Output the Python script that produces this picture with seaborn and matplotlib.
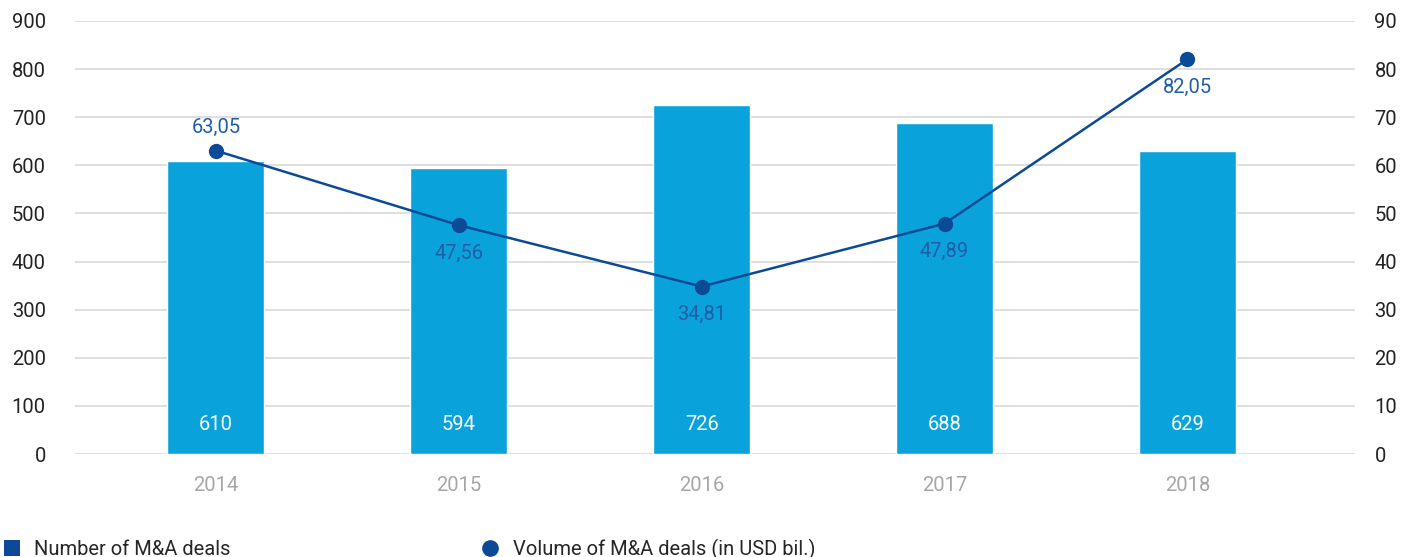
import pandas as pd
import matplotlib.pyplot as plt
import seaborn as sns
from matplotlib.lines import Line2D
from matplotlib.patches import Patch

years = ['2014', '2015', '2016', '2017', '2018']
deals_count = [610, 594, 726, 688, 629]
deals_volume = [63.05, 47.56, 34.81, 47.89, 82.05]
volume_labels = ['63,05', '47,56', '34,81', '47,89', '82,05']

bar_color = '#0AA2DB'
line_color = '#0B4A97'
label_color = '#1F5EA8'

df = pd.DataFrame({'year': years, 'count': deals_count, 'volume': deals_volume})
df['pos'] = range(len(df))

sns.set_theme(style='white')
plt.rcParams['font.family'] = ['Roboto', 'DejaVu Sans']

fs = 14.5

fig = plt.figure(figsize=(14.03, 5.57), dpi=100)
ax = fig.add_axes([75 / 1403, 1 - 454 / 557, 1280 / 1403, 433 / 557])

sns.barplot(data=df, x='year', y='count', color=bar_color, saturation=1,
            width=0.4, ax=ax, zorder=2)
ax.set_ylim(0, 900)
ax.set_yticks(range(0, 901, 100))
ax.set_xlim(-0.58, 4.69)
ax.yaxis.grid(True, color='#d9d9d9', linewidth=1.2, zorder=0)
ax.set_axisbelow(True)
for s in ax.spines.values():
    s.set_visible(False)
ax.set_xlabel('')
ax.set_ylabel('')
ax.tick_params(axis='y', labelsize=fs, labelcolor='#222222', pad=21, length=0)
ax.tick_params(axis='x', labelsize=fs, labelcolor='#a6a6a6', pad=16, length=0)

# bar labels
for i, v in enumerate(deals_count):
    ax.text(i, 62, str(v), ha='center', va='center', color='white', fontsize=fs)

ax2 = ax.twinx()
sns.lineplot(data=df, x='pos', y='volume', color=line_color, linewidth=1.8,
             marker='o', markersize=11, markeredgewidth=0, ax=ax2, zorder=3)
ax2.set_ylim(0, 90)
ax2.set_yticks(range(0, 91, 10))
ax2.set_xlim(-0.58, 4.69)
for s in ax2.spines.values():
    s.set_visible(False)
ax2.set_ylabel('')
ax2.tick_params(axis='y', labelsize=fs, labelcolor='#222222', pad=14, length=0)

for i, (v, lab) in enumerate(zip(deals_volume, volume_labels)):
    off = 17 if i == 0 else -20
    ax2.annotate(lab, (i, v), xytext=(0, off), textcoords='offset points',
                 ha='center', va='center', color=label_color, fontsize=fs)

handles = [Patch(facecolor=line_color, edgecolor='none'),
           Line2D([], [], color=line_color, marker='o', linestyle='none', markersize=11)]
fig.legend(handles, ['Number of M&A deals', 'Volume of M&A deals (in USD bil.)'],
           loc='lower left', bbox_to_anchor=(0.0, -0.012), ncol=2, frameon=False,
           fontsize=fs, handlelength=0.8, handleheight=0.8, handletextpad=0.7,
           columnspacing=12.5, borderaxespad=0, borderpad=0.2)

fig.savefig('out.png', dpi=100)
